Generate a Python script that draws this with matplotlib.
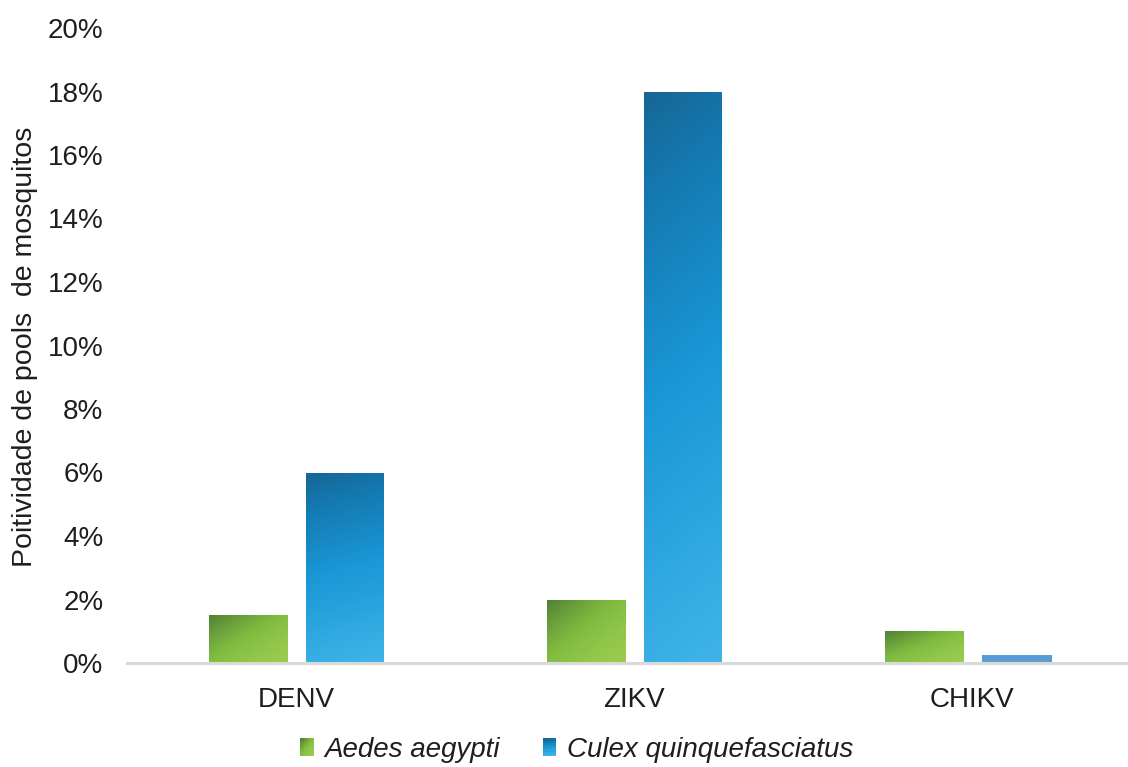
import numpy as np
import matplotlib
matplotlib.use("Agg")
import matplotlib.pyplot as plt
from matplotlib.colors import LinearSegmentedColormap
from matplotlib.patches import Rectangle
from matplotlib.legend_handler import HandlerBase
from matplotlib.ticker import FuncFormatter, MultipleLocator

# Data (percent of positive mosquito pools)
categories = ["DENV", "ZIKV", "CHIKV"]
series_names = ["Aedes aegypti", "Culex quinquefasciatus"]
aedes_values = [1.5, 2.0, 1.0]
culex_values = [6.0, 18.0, 0.25]

plt.rcParams["font.family"] = ["Liberation Sans", "DejaVu Sans"]

FS = 20
TEXT = "#1e1e1e"

green_cmap = LinearSegmentedColormap.from_list(
    "green_fill", [(0.0, "#9acc4e"), (0.4, "#80bc40"), (1.0, "#527f36")])
blue_cmap = LinearSegmentedColormap.from_list(
    "blue_fill", [(0.0, "#40b4e8"), (0.5, "#1a97d6"), (0.85, "#1477ae"), (1.0, "#186696")])


def green_shade(u, v):
    # diagonal gradient: dark upper-left, light lower-right
    return ((v + (1 - u)) / 2.0) ** 1.5


def blue_shade(u, v):
    # mostly vertical gradient, slightly darker on the left
    return np.clip(0.9 * v + 0.1 * (1 - u), 0, 1)


def gradient_image(cmap, shade, n=128):
    u = np.linspace(0, 1, n)[None, :]
    v = np.linspace(0, 1, n)[:, None]
    return cmap(shade(u, v))


fig = plt.figure(figsize=(11.28, 7.67), dpi=100)
ax = fig.add_axes([127 / 1128, 104 / 767, 1014 / 1128, 635 / 767])

x = np.arange(len(categories))
green_left = -0.257
blue_left = 0.03
green_width = 0.231
blue_widths = [0.228, 0.228, 0.207]
blue_fill = ["gradient", "gradient", "flat"]

green_img = gradient_image(green_cmap, green_shade)
blue_img = gradient_image(blue_cmap, blue_shade)

bars_a = ax.bar(x + green_left, aedes_values, width=green_width, align="edge",
                color="#80bc40", linewidth=0, zorder=2)
bars_c = ax.bar(x + blue_left, culex_values, width=blue_widths, align="edge",
                color="#5b9bd5", linewidth=0, zorder=2)

for bar in bars_a:
    x0, w, h = bar.get_x(), bar.get_width(), bar.get_height()
    im = ax.imshow(green_img, extent=(x0, x0 + w, 0, h), origin="lower",
                   aspect="auto", interpolation="bilinear", zorder=3)
    im.set_clip_path(bar)

for bar, fill in zip(bars_c, blue_fill):
    if fill != "gradient":
        continue
    x0, w, h = bar.get_x(), bar.get_width(), bar.get_height()
    im = ax.imshow(blue_img, extent=(x0, x0 + w, 0, h), origin="lower",
                   aspect="auto", interpolation="bilinear", zorder=3)
    im.set_clip_path(bar)

ax.set_xlim(-0.5, 2.5)
ax.set_ylim(0, 20)
ax.yaxis.set_major_locator(MultipleLocator(2))
ax.yaxis.set_major_formatter(FuncFormatter(lambda v, p: f"{v:.0f}%"))
ax.set_xticks(x)
ax.set_xticklabels(categories)
ax.tick_params(axis="both", length=0, labelsize=FS, labelcolor=TEXT)
ax.tick_params(axis="y", pad=17)
ax.tick_params(axis="x", pad=17)

for side in ["top", "right", "left"]:
    ax.spines[side].set_visible(False)
ax.spines["bottom"].set_color("#d9d9d9")
ax.spines["bottom"].set_linewidth(2.2)
ax.spines["bottom"].set_zorder(4)

fig.text(25 / 1128, 1 - 347 / 767, "Poitividade de pools  de mosquitos",
         rotation=90, ha="center", va="center", fontsize=20.5, color=TEXT)


class GradientSquareHandler(HandlerBase):
    def __init__(self, cmap, shade):
        super().__init__()
        self.cmap = cmap
        self.shade = shade

    def create_artists(self, legend, orig_handle, xdescent, ydescent,
                       width, height, fontsize, trans):
        arts = []
        n = 8
        img = gradient_image(self.cmap, self.shade, n)
        cw, ch = width / n, height / n
        for i in range(n):
            for j in range(n):
                r = Rectangle((-xdescent + j * cw, -ydescent + i * ch), cw * 1.05, ch * 1.05,
                              facecolor=img[i, j], edgecolor="none", transform=trans)
                arts.append(r)
        return arts


h_a = Rectangle((0, 0), 1, 1)
h_c = Rectangle((0, 0), 1, 1)
leg = fig.legend([h_a, h_c], series_names, loc="center", ncol=2,
                 bbox_to_anchor=(577 / 1128, 17 / 767), frameon=False,
                 handlelength=0.47, handleheight=0.58, handletextpad=0.4,
                 columnspacing=1.55, prop={"size": FS, "style": "italic"},
                 handler_map={h_a: GradientSquareHandler(green_cmap, green_shade),
                              h_c: GradientSquareHandler(blue_cmap, blue_shade)})
for t in leg.get_texts():
    t.set_color(TEXT)

fig.savefig("out.png", dpi=100)
